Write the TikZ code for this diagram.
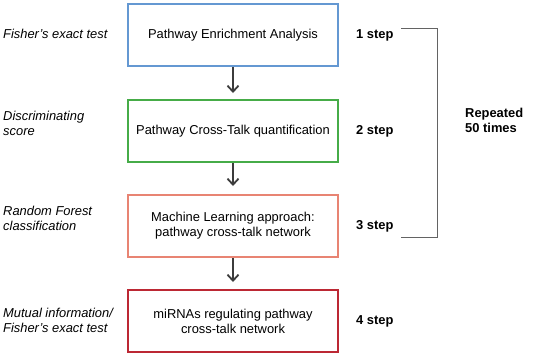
\documentclass[tikz,border=0pt]{standalone}
\usepackage{fontspec}
\setmainfont{Liberation Sans}
\usetikzlibrary{arrows.meta}
\definecolor{cblue}{RGB}{100,152,210}
\definecolor{cgreen}{RGB}{70,172,72}
\definecolor{csalmon}{RGB}{232,132,115}
\definecolor{cred}{RGB}{188,40,52}
\definecolor{cline}{RGB}{60,60,60}
\begin{document}
\begin{tikzpicture}[x=1pt,y=-1pt,
  box/.style={draw, line width=2pt, minimum width=210pt, minimum height=62pt, align=center, inner sep=0pt, font=\fontsize{12.9}{15}\selectfont},
  lbl/.style={anchor=west, align=left, inner sep=0pt, font=\fontsize{12.9}{15}\selectfont\itshape},
  steplbl/.style={anchor=west, inner sep=0pt, font=\fontsize{12.9}{15}\selectfont\bfseries},
  flow/.style={draw=cline, line width=1.2pt, -{Straight Barb[length=6pt,width=11pt,line width=1.8pt]}},
  brk/.style={draw=cline!80, line width=1pt}]
\useasboundingbox (0,0) rectangle (542,357);
\node[box, draw=cblue] (b1) at (233,35) {Pathway Enrichment Analysis};
\node[box, draw=cgreen] (b2) at (233,131) {Pathway Cross-Talk quantification};
\node[box, draw=csalmon] (b3) at (233,226) {Machine Learning approach:\\pathway cross-talk network};
\node[box, draw=cred] (b4) at (233,321) {miRNAs regulating pathway\\cross-talk network};
\draw[flow] (b1) -- ([yshift=6pt]b2.north);
\draw[flow] (b2) -- ([yshift=8pt]b3.north);
\draw[flow] (b3) -- ([yshift=7pt]b4.north);
\node[lbl] (l1) at (3,34) {Fisher's exact test};
\node[lbl] (l2) at (3,123) {Discriminating\\score};
\node[lbl] (l3) at (3,218) {Random Forest\\classification};
\node[lbl] (l4) at (3,320) {Mutual information/\\Fisher's exact test};
\node[steplbl] (s1) at (356,35) {1 step};
\node[steplbl] (s2) at (356,131) {2 step};
\node[steplbl] (s3) at (356,226) {3 step};
\node[steplbl] (s4) at (356,321) {4 step};
\node[steplbl, align=left] (rep) at (465,120) {Repeated\\50 times};
\coordinate (t0) at (401,28);
\coordinate (t1) at (437,28);
\coordinate (t2) at (437,237);
\coordinate (t3) at (401,237);
\draw[brk] (t0) -- (t1) -- (t2) -- (t3);
\end{tikzpicture}
\end{document}
